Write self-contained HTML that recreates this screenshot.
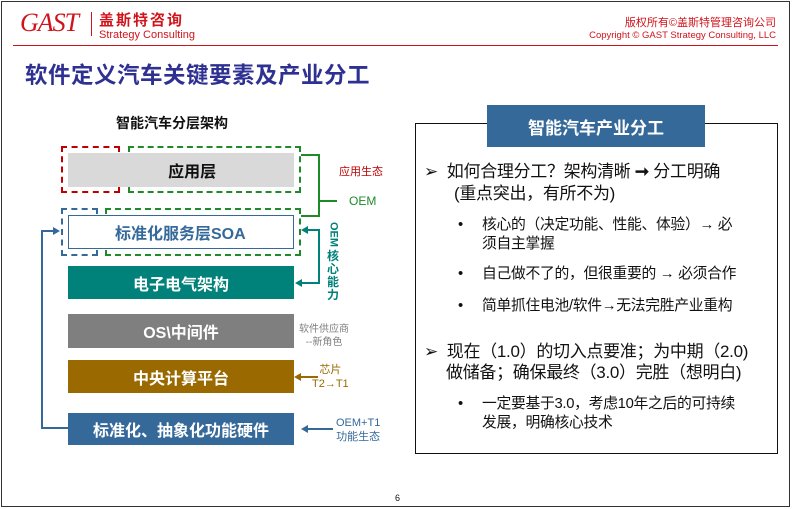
<!DOCTYPE html>
<html><head><meta charset="utf-8"><style>
*{margin:0;padding:0;box-sizing:border-box}
body{width:792px;height:509px;background:#fff;position:relative;overflow:hidden;font-family:"Liberation Sans","Noto Sans CJK SC",sans-serif}
.a{position:absolute;white-space:nowrap}
.box{position:absolute;display:flex;align-items:center;justify-content:center;font-weight:bold;font-size:16px;color:#fff}
.t{position:absolute;white-space:nowrap;font-size:17px;color:#111;line-height:21px;letter-spacing:-0.3px}
.s{position:absolute;white-space:nowrap;font-size:14.8px;color:#111;line-height:19px;letter-spacing:-0.3px}
</style></head><body>
<div class="a" style="left:1px;top:1px;width:789px;height:506px;border:1px solid #333"></div>
<!-- logo -->
<div class="a" style="left:20px;top:8px;font-family:'Liberation Serif',serif;font-style:italic;font-size:26px;color:#d0141b;letter-spacing:-1px">GAST</div>
<div class="a" style="left:91px;top:12px;width:1px;height:24px;background:#d0141b"></div>
<div class="a" style="left:99px;top:9px;font-size:15px;font-weight:bold;color:#d0141b;letter-spacing:2px">盖斯特咨询</div>
<div class="a" style="left:99px;top:29px;font-size:11px;color:#d0141b">Strategy Consulting</div>
<div class="a" style="right:16px;top:14px;font-size:11px;color:#d0141b">版权所有©盖斯特管理咨询公司</div>
<div class="a" style="right:16px;top:30px;font-size:9.5px;color:#d0141b">Copyright © GAST Strategy Consulting, LLC</div>
<div class="a" style="left:13px;top:45px;width:765px;height:1px;background:#d0141b"></div>
<div class="a" style="left:25px;top:58px;font-size:22.5px;font-weight:bold;color:#2e3192;letter-spacing:0.5px">软件定义汽车关键要素及产业分工</div>

<div class="a" style="left:116px;top:113px;font-size:14px;font-weight:bold;color:#111">智能汽车分层架构</div>

<div class="a" style="left:61px;top:146px;width:59px;height:47px;border:2px dashed #c00000"></div>
<div class="a" style="left:128px;top:146px;width:173px;height:47px;border:2px dashed #1f8a2a"></div>
<div class="a" style="left:61px;top:208px;width:37px;height:48px;border:2px dashed #35699a"></div>
<div class="a" style="left:105px;top:208px;width:196px;height:48px;border:2px dashed #1f8a2a"></div>

<div class="box" style="left:68px;top:153px;width:226px;height:34px;background:#d9d9d9;color:#111">&nbsp;&nbsp;&nbsp;&nbsp;&nbsp;应用层</div>
<div class="box" style="left:68px;top:215px;width:226px;height:34px;background:#fff;border:1px solid #35699a;color:#35699a;justify-content:flex-start;padding-left:46px">标准化服务层SOA</div>
<div class="box" style="left:68px;top:266px;width:226px;height:33px;background:#00827a">电子电气架构</div>
<div class="box" style="left:68px;top:314px;width:226px;height:34px;background:#7f7f7f">OS\中间件</div>
<div class="box" style="left:68px;top:360px;width:226px;height:33px;background:#9a6a00">中央计算平台</div>
<div class="box" style="left:68px;top:413px;width:226px;height:32px;background:#35699a">标准化、抽象化功能硬件</div>

<svg class="a" style="left:0;top:0" width="792" height="509">
<polyline points="301,155 319,155 319,216 301,216" fill="none" stroke="#1f8a2a" stroke-width="2"/>
<line x1="319" y1="201" x2="337" y2="201" stroke="#1f8a2a" stroke-width="2"/>
<polyline points="306,230 319,230 319,283 300,283" fill="none" stroke="#00827a" stroke-width="2"/>
<polygon points="301,230 308,226 308,234" fill="#00827a"/>
<polygon points="295,283 302,279 302,287" fill="#00827a"/>
<line x1="318" y1="377" x2="300" y2="377" stroke="#9a6a00" stroke-width="2"/>
<polygon points="294,377 301,373 301,381" fill="#9a6a00"/>
<line x1="333" y1="429" x2="307" y2="429" stroke="#35699a" stroke-width="2"/>
<polygon points="301,429 308,425 308,433" fill="#35699a"/>
<polyline points="68,428 42,428 42,231 54,231" fill="none" stroke="#35699a" stroke-width="2"/>
<polygon points="60,231 53,227 53,235" fill="#35699a"/>
</svg>
<div class="a" style="left:339px;top:163px;font-size:11px;color:#c00000">应用生态</div>
<div class="a" style="left:349px;top:194px;font-size:12px;color:#1f8a2a">OEM</div>
<div class="a" style="left:326px;top:222px;width:14px;font-size:12px;font-weight:bold;color:#00827a;white-space:normal;line-height:13px;text-align:center"><span style="writing-mode:vertical-rl;font-size:11px">OEM</span><br>核<br>心<br>能<br>力</div>
<div class="a" style="left:299px;top:323px;font-size:10px;color:#7f7f7f;line-height:13px;text-align:center">软件供应商<br>--新角色</div>
<div class="a" style="left:312px;top:363px;font-size:11px;color:#9a6a00;line-height:14px;text-align:center">芯片<br>T2→T1</div>
<div class="a" style="left:336px;top:416px;font-size:11px;color:#35699a;line-height:14px;text-align:center">OEM+T1<br>功能生态</div>

<!-- right panel -->
<div class="a" style="left:415px;top:123px;width:363px;height:331px;border:1px solid #111"></div>
<div class="box" style="left:487px;top:105px;width:218px;height:42px;background:#35699a;font-size:17px">智能汽车产业分工</div>
<div class="t" style="left:424px;top:161px">➢&nbsp;&nbsp;如何合理分工？架构清晰 <b>➞</b> 分工明确</div>
<div class="t" style="left:454px;top:183px">(重点突出，有所不为)</div>
<div class="s" style="left:458px;top:216px">•</div><div class="s" style="left:482px;top:216px">核心的（决定功能、性能、体验）→ 必</div>
<div class="s" style="left:482px;top:235px">须自主掌握</div>
<div class="s" style="left:458px;top:265px">•</div><div class="s" style="left:482px;top:265px">自己做不了的，但很重要的 → 必须合作</div>
<div class="s" style="left:458px;top:297px">•</div><div class="s" style="left:482px;top:297px">简单抓住电池/软件→无法完胜产业重构</div>
<div class="t" style="left:424px;top:341px">➢&nbsp;&nbsp;现在（1.0）的切入点要准；为中期（2.0)</div>
<div class="t" style="left:446px;top:362px">做储备；确保最终（3.0）完胜（想明白)</div>
<div class="s" style="left:458px;top:395px">•</div><div class="s" style="left:482px;top:395px">一定要基于3.0，考虑10年之后的可持续</div>
<div class="s" style="left:482px;top:414px">发展，明确核心技术</div>

<div class="a" style="left:395px;top:493px;font-size:9px;color:#111">6</div>
</body></html>
